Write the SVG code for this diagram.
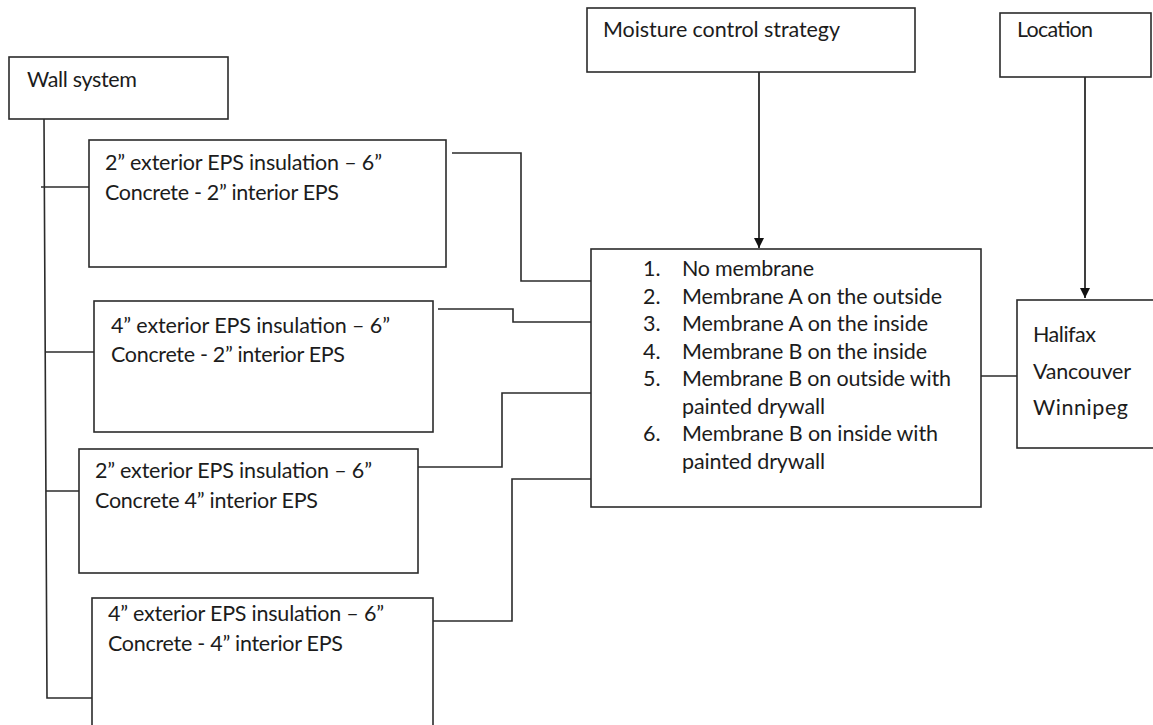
<svg xmlns="http://www.w3.org/2000/svg" width="1153" height="725" viewBox="0 0 1153 725">
<style>
rect.box{fill:#fff;stroke:#2b2b2b;stroke-width:1.6}
.c{fill:none;stroke:#2b2b2b;stroke-width:1.6}
text{font-family:Lato,"Liberation Sans",sans-serif;font-size:21.5px;fill:#1c1c1c}
</style>
<defs>
<marker id="arr" viewBox="0 0 10 10" refX="10" refY="5" markerWidth="10" markerHeight="10" markerUnits="userSpaceOnUse" orient="auto">
<path d="M0,0 L10,5 L0,10 z" fill="#111"/>
</marker>
</defs>
<g id="connectors">
<polyline class="c" points="44,119 47,698 92,698"/>
<line class="c" x1="41" y1="187" x2="89" y2="187"/>
<line class="c" x1="45" y1="352" x2="94" y2="352"/>
<line class="c" x1="46" y1="491" x2="79" y2="491"/>
<polyline class="c" points="452,153 521,153 521,281 591,281"/>
<polyline class="c" points="438,309 513,309 513,322 591,322"/>
<polyline class="c" points="416,467 502,467 502,393 591,393"/>
<polyline class="c" points="433,621 512,621 512,479 591,479"/>
<line class="c" x1="981" y1="376" x2="1017" y2="376"/>
<line class="c" x1="759" y1="72" x2="759" y2="248" marker-end="url(#arr)" style="stroke-width:1.8"/>
<line class="c" x1="1085" y1="77" x2="1085" y2="298" marker-end="url(#arr)" style="stroke-width:1.8"/>
</g>
<g id="wall-system">
<rect class="box" x="9" y="57" width="219" height="62"/>
<text x="27" y="87" textLength="110">Wall system</text>
</g>
<g id="wall-1">
<rect class="box" x="89" y="140" width="357" height="127"/>
<text x="105" y="170" textLength="277">2” exterior EPS insulation – 6”</text>
<text x="105" y="200" textLength="234">Concrete - 2” interior EPS</text>
</g>
<g id="wall-2">
<rect class="box" x="94" y="301" width="339" height="131"/>
<text x="111" y="333" textLength="279">4” exterior EPS insulation – 6”</text>
<text x="111" y="362" textLength="234">Concrete - 2” interior EPS</text>
</g>
<g id="wall-3">
<rect class="box" x="79" y="449" width="339" height="124"/>
<text x="95" y="478" textLength="277">2” exterior EPS insulation – 6”</text>
<text x="95" y="508" textLength="223">Concrete 4” interior EPS</text>
</g>
<g id="wall-4">
<rect class="box" x="92" y="598" width="341" height="140"/>
<text x="108" y="621" textLength="276">4” exterior EPS insulation – 6”</text>
<text x="108" y="651" textLength="235">Concrete - 4” interior EPS</text>
</g>
<g id="moisture-strategy">
<rect class="box" x="587" y="8" width="328" height="64"/>
<text x="603" y="37" textLength="237">Moisture control strategy</text>
</g>
<g id="strategies">
<rect class="box" x="591" y="249" width="390" height="258"/>
<text x="643" y="276">1.</text><text x="682" y="276" textLength="132">No membrane</text>
<text x="643" y="304">2.</text><text x="682" y="304" textLength="260">Membrane A on the outside</text>
<text x="643" y="331">3.</text><text x="682" y="331" textLength="246">Membrane A on the inside</text>
<text x="643" y="359">4.</text><text x="682" y="359" textLength="245">Membrane B on the inside</text>
<text x="643" y="386">5.</text><text x="682" y="386" textLength="269">Membrane B on outside with</text>
<text x="682" y="414" textLength="143">painted drywall</text>
<text x="643" y="441">6.</text><text x="682" y="441" textLength="256">Membrane B on inside with</text>
<text x="682" y="469" textLength="143">painted drywall</text>
</g>
<g id="location">
<rect class="box" x="1000" y="13" width="151" height="64"/>
<text x="1017" y="37" textLength="76">Location</text>
</g>
<g id="cities">
<rect class="box" x="1017" y="300" width="150" height="148"/>
<text x="1033" y="342" textLength="63">Halifax</text>
<text x="1033" y="379" textLength="98">Vancouver</text>
<text x="1033" y="415" textLength="95">Winnipeg</text>
</g>
</svg>
